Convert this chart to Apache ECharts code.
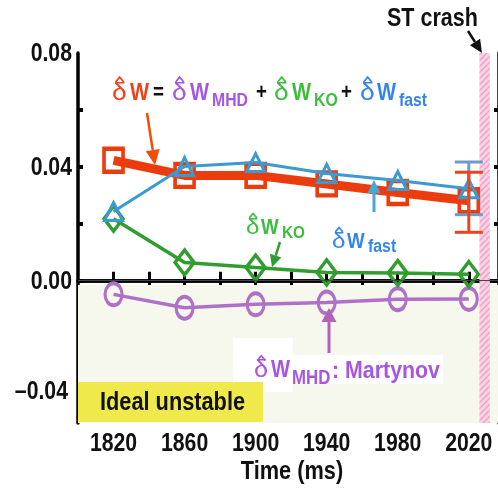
<!DOCTYPE html>
<html>
<head>
<meta charset="utf-8">
<script src="https://cdn.jsdelivr.net/npm/echarts@6/dist/echarts.min.js"></script>
<style>
  html, body { margin: 0; padding: 0; background: #ffffff; }
  #chart { width: 498px; height: 491px; }
</style>
</head>
<body>
<div id="chart"></div>
<script>
// Time axis (ms) of the analysed equilibria
const times = [1820, 1860, 1900, 1940, 1980, 2020];
// Normalised potential-energy contributions
const dW     = [0.0423, 0.0370, 0.0370, 0.0340, 0.0310, 0.0281];
const dWfast = [0.0243, 0.0401, 0.0415, 0.0377, 0.0352, 0.0323];
const dWko   = [0.0218, 0.0064, 0.0046, 0.0029, 0.0027, 0.0023];
const dWmhd  = [-0.0048, -0.0095, -0.0083, -0.0077, -0.0065, -0.0064];
// Uncertainty ranges at the last time slice [low, high]
const errTime    = [2020];
const dWErr      = [[0.0170, 0.0381]];
const dWfastErr  = [[0.0232, 0.0417]];
// Sawtooth crash window (ms)
const crashWindow = [2026, 2031.8];
// Axis ticks and labels
const xTicks  = [1820, 1840, 1860, 1880, 1900, 1920, 1940, 1960, 1980, 2000, 2020];
const xLabels = [1820, 1860, 1900, 1940, 1980, 2020];
const yTicks  = [-0.04, -0.02, 0, 0.02, 0.04, 0.06];
const yLabels = [-0.04, 0, 0.04, 0.08];
const xRange = [1800, 2037];
const yRange = [-0.05, 0.08];
const baseLevel = -0.0015;

const SANS = '"Liberation Sans",Arial,"DejaVu Sans",sans-serif';

const C = {
  red: '#ec3c0e', redText: '#f2401a', blue: '#3b9ad0', blueText: '#3584ee',
  green: '#2f9e2f', greenText: '#3cbd3c', purple: '#b070c8', purpleText: '#a656e0',
  errBlue: '#6d9cc9', errRed: '#f0421a'
};

const pairs = (ys) => times.map((t, i) => [t, ys[i]]);

// hatched fill for the crash window
const hatch = document.createElement('canvas');
hatch.width = 6; hatch.height = 6;
(function () {
  const g = hatch.getContext('2d');
  g.fillStyle = '#fbd3e4';
  g.fillRect(0, 0, 6, 6);
  g.strokeStyle = '#f29fc3';
  g.lineWidth = 1.5;
  g.beginPath();
  g.moveTo(-1, 7); g.lineTo(7, -1);
  g.moveTo(-1, 1); g.lineTo(1, -1);
  g.moveTo(5, 7); g.lineTo(7, 5);
  g.stroke();
})();

// condensed bold text, anchored at (x, y) with y at the middle of the line
function text(x, y, s, size, color, o) {
  o = o || {};
  return {
    type: 'text', x: x, y: y, z: 110, scaleX: o.sx || 0.86,
    style: {
      text: s, fill: color, fontSize: size, fontFamily: SANS,
      fontWeight: o.weight || 'bold', verticalAlign: 'middle', align: o.align || 'left'
    }
  };
}
// delta with a circumflex hat
function hatDelta(x, y, size, color) {
  const cx = x + 0.32 * size;
  return [
    text(x, y, '\u03b4', size, color, { weight: 'normal', sx: 1.1 }),
    { type: 'polyline', z: 110,
      shape: { points: [[cx - 0.17 * size, y - 0.46 * size], [cx, y - 0.66 * size], [cx + 0.17 * size, y - 0.46 * size]] },
      style: { stroke: color, lineWidth: 1.7, fill: null } }
  ];
}
function arrow(x1, y1, x2, y2, color, width, headLen, headW) {
  const dx = x2 - x1, dy = y2 - y1, L = Math.hypot(dx, dy);
  const ux = dx / L, uy = dy / L;
  const bx = x2 - ux * headLen, by = y2 - uy * headLen;
  const px = -uy * headW / 2, py = ux * headW / 2;
  return [
    { type: 'line', z: 110, shape: { x1: x1, y1: y1, x2: bx, y2: by },
      style: { stroke: color, lineWidth: width } },
    { type: 'polygon', z: 110, shape: { points: [[x2, y2], [bx + px, by + py], [bx - px, by - py]] },
      style: { fill: color } }
  ];
}

function errorSeries(name, data, color) {
  return {
    name: name, type: 'custom', xAxisIndex: 0, yAxisIndex: 0, z: 6,
    data: errTime.map((t, i) => [t, data[i][0], data[i][1]]),
    renderItem: function (params, api) {
      const lo = api.coord([api.value(0), api.value(1)]);
      const hi = api.coord([api.value(0), api.value(2)]);
      const hw = 14;
      const st = { stroke: color, lineWidth: 3 };
      return {
        type: 'group',
        children: [
          { type: 'line', shape: { x1: lo[0], y1: lo[1], x2: hi[0], y2: hi[1] }, style: st },
          { type: 'line', shape: { x1: lo[0] - hw, y1: lo[1], x2: lo[0] + hw, y2: lo[1] }, style: st },
          { type: 'line', shape: { x1: hi[0] - hw, y1: hi[1], x2: hi[0] + hw, y2: hi[1] }, style: st }
        ]
      };
    }
  };
}

const axisLine = { show: true, lineStyle: { color: '#000000', width: 3.5 } };
const xTick = { inside: true, length: 9, lineStyle: { width: 3, color: '#000' }, customValues: xTicks };
const yTick = { inside: true, length: 5, lineStyle: { width: 4, color: '#000' }, customValues: yTicks };
const fmtY = (v) => (v < 0 ? '\u2013' : '') + Math.abs(v).toFixed(2);

const option = {
  animation: false,
  backgroundColor: '#ffffff',
  grid: { left: 78, top: 53, width: 421, height: 370, containLabel: false, outerBoundsMode: 'none' },
  xAxis: [
    { type: 'value', min: xRange[0], max: xRange[1], position: 'bottom', axisLine: axisLine,
      splitLine: { show: false }, axisTick: xTick, axisLabel: { show: false } },
    { type: 'value', min: xRange[0], max: xRange[1], position: 'top', axisLine: axisLine,
      splitLine: { show: false }, axisTick: xTick, axisLabel: { show: false } }
  ],
  yAxis: [
    { type: 'value', min: yRange[0], max: yRange[1], position: 'left', axisLine: axisLine,
      splitLine: { show: false }, axisTick: yTick, axisLabel: { show: false } },
    { type: 'value', min: yRange[0], max: yRange[1], position: 'right', axisLine: axisLine,
      splitLine: { show: false }, axisTick: yTick, axisLabel: { show: false } }
  ],
  series: [
    { name: 'bands', type: 'line', data: [], z: 1,
      markArea: { silent: true, data: [
        [{ yAxis: yRange[0], itemStyle: { color: '#f6f8ed' } }, { yAxis: baseLevel }],
        [{ xAxis: crashWindow[0], itemStyle: { color: { image: hatch, repeat: 'repeat' } } }, { xAxis: crashWindow[1] }]
      ] },
      markLine: { silent: true, symbol: 'none', label: { show: false },
        lineStyle: { color: '#444444', width: 1, type: 'solid' },
        data: [{ yAxis: baseLevel }] } },
    { name: 'dWmhd', type: 'line', data: pairs(dWmhd), z: 3,
      symbol: 'circle', symbolSize: [17, 22],
      lineStyle: { color: C.purple, width: 3.5 },
      itemStyle: { color: 'rgba(255,255,255,0)', borderColor: C.purple, borderWidth: 3.5 } },
    { name: 'dWko', type: 'line', data: pairs(dWko), z: 3,
      symbol: 'diamond', symbolSize: [19, 25],
      lineStyle: { color: C.green, width: 3.5 },
      itemStyle: { color: 'rgba(255,255,255,0)', borderColor: C.green, borderWidth: 3.5 } },
    { name: 'dW', type: 'line', data: pairs(dW), z: 4,
      symbol: 'rect', symbolSize: [19, 23],
      lineStyle: { color: C.red, width: 9 },
      itemStyle: { color: 'rgba(255,255,255,0)', borderColor: C.red, borderWidth: 4 } },
    { name: 'dWfast', type: 'line', data: pairs(dWfast), z: 5,
      symbol: 'triangle', symbolSize: [18, 18],
      lineStyle: { color: C.blue, width: 3 },
      itemStyle: { color: 'rgba(255,255,255,0)', borderColor: C.blue, borderWidth: 3 } },
    errorSeries('dWfastErr', dWfastErr, C.errBlue),
    errorSeries('dWErr', dWErr, C.errRed)
  ]
};

const chart = echarts.init(document.getElementById('chart'), null, { renderer: 'canvas' });
chart.setOption(option);

// tick labels placed through the axes' own scales
const tickLabels = [];
xLabels.forEach((v) => {
  const px = chart.convertToPixel({ xAxisIndex: 0 }, v);
  tickLabels.push(text(px, 444, String(v), 25, '#111111', { align: 'center', sx: 0.85 }));
});
yLabels.forEach((v) => {
  const py = chart.convertToPixel({ yAxisIndex: 0 }, v);
  const right = v < 0 ? 68 : 72;
  tickLabels.push(text(right, py + (v < 0 ? -2 : 1), fmtY(v), 25, '#111111', { align: 'right', sx: 0.85 }));
});

const graphics = [
  // white backing for the MHD label
  { type: 'rect', z: 105, shape: { x: 233, y: 338, width: 60, height: 54 }, style: { fill: '#ffffff' } },
  { type: 'rect', z: 105, shape: { x: 290, y: 355, width: 153, height: 29 }, style: { fill: '#ffffff' } },
  // "Ideal unstable" tag
  { type: 'rect', z: 105, shape: { x: 78, y: 382, width: 185, height: 40 }, style: { fill: '#f0e94b' } },
  text(100, 403, 'Ideal unstable', 25, '#111111', { sx: 0.87 }),

  // formula line
  text(130, 93, 'W', 24, C.redText, { sx: 0.84 }),
  text(153, 93, '=', 22, '#111111', { sx: 0.85 }),
  text(190, 93, 'W', 24, C.purpleText, { sx: 0.84 }),
  text(212, 101, 'MHD', 19, C.purpleText, { sx: 0.83 }),
  text(256, 93, '+', 22, '#111111', { sx: 0.85 }),
  text(292, 93, 'W', 24, C.greenText, { sx: 0.84 }),
  text(314, 101, 'KO', 19, C.greenText, { sx: 0.83 }),
  text(341, 93, '+', 22, '#111111', { sx: 0.85 }),
  text(377, 93, 'W', 24, C.blueText, { sx: 0.84 }),
  text(399, 101, 'fast', 19, C.blueText, { sx: 0.83 }),

  // KO label
  text(261, 228, 'W', 22, C.greenText, { sx: 0.85 }),
  text(282, 233, 'KO', 17, C.greenText, { sx: 0.9 }),
  // fast label
  text(347, 242, 'W', 22, C.blueText, { sx: 0.85 }),
  text(368, 247, 'fast', 18, C.blueText, { sx: 0.88 }),
  // MHD label
  text(271, 371, 'W', 23, C.purpleText, { sx: 0.88 }),
  text(292, 378, 'MHD', 20, C.purpleText, { sx: 0.84 }),
  text(332, 371, ': Martynov', 24, C.purpleText, { sx: 0.89 }),

  // crash marker
  text(387, 19, 'ST crash', 25, '#111111', { sx: 0.86 }),
  // axis title
  text(292, 472, 'Time (ms)', 25, '#111111', { align: 'center', sx: 0.87 })
].concat(
  hatDelta(112, 93, 24, C.redText),
  hatDelta(172, 93, 24, C.purpleText),
  hatDelta(274, 93, 24, C.greenText),
  hatDelta(360, 93, 24, C.blueText),
  hatDelta(246, 228, 22, C.greenText),
  hatDelta(332, 242, 22, C.blueText),
  hatDelta(254, 371, 23, C.purpleText),
  arrow(468, 31, 482, 53, '#111111', 2.5, 13, 12),
  arrow(147, 113, 155, 165, '#f04e06', 2.5, 15, 14),
  arrow(280, 242, 272, 267, C.green, 2.5, 12, 12),
  arrow(374, 212, 374, 180, '#46a8d6', 3, 13, 13),
  arrow(329, 353, 329, 308, '#b062b8', 3, 14, 15),
  tickLabels
);

chart.setOption({ graphic: graphics });
</script>
</body>
</html>
